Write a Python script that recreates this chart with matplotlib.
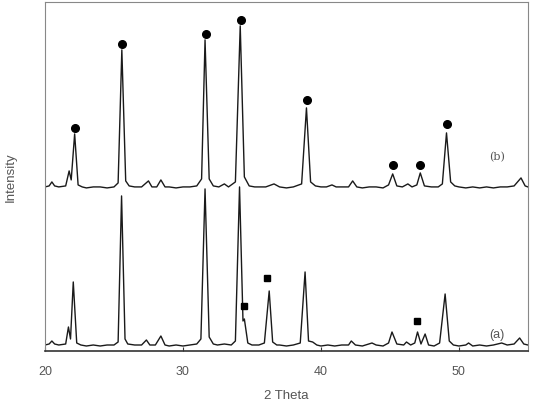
import numpy as np
import matplotlib.pyplot as plt

plt.rcParams['font.family'] = ['Liberation Sans', 'DejaVu Sans']

two_theta_a = [20.0, 20.3, 20.5, 20.7, 21.0, 21.5, 21.7, 21.85, 22.05, 22.3, 22.6,
               23.0, 23.5, 24.0, 24.5, 25.0, 25.3, 25.55, 25.8, 26.0, 26.5, 27.0,
               27.35, 27.6, 28.0, 28.4, 28.7, 29.0, 29.5, 30.0, 30.5, 31.0, 31.3,
               31.6, 31.9, 32.2, 32.5, 33.0, 33.5, 33.8, 34.1, 34.35, 34.45, 34.7,
               35.0, 35.5, 35.9, 36.25, 36.5, 36.8, 37.0, 37.5, 38.0, 38.5, 38.85,
               39.1, 39.4, 39.7, 40.0, 40.5, 41.0, 41.5, 42.0, 42.2, 42.5, 43.0,
               43.7, 44.0, 44.5, 44.9, 45.15, 45.5, 46.0, 46.2, 46.5, 46.8, 47.0,
               47.25, 47.55, 47.8, 48.2, 48.6, 49.0, 49.3, 49.6, 50.0, 50.5, 50.7,
               51.0, 51.5, 52.0, 52.5, 53.1, 53.5, 54.0, 54.4, 54.7, 55.0]
intensity_a = [6, 7, 10, 7, 6, 7, 24, 12, 69, 8, 6,
               5, 6, 5, 6, 6, 9, 155, 12, 7, 6, 6,
               11, 6, 6, 15, 6, 5, 6, 5, 6, 7, 12,
               162, 14, 7, 6, 7, 6, 10, 164, 30, 32, 8,
               6, 6, 8, 60, 9, 6, 6, 5, 6, 8, 79,
               10, 9, 6, 5, 6, 5, 6, 6, 10, 6, 5,
               8, 6, 5, 8, 19, 7, 6, 9, 6, 8, 19,
               7, 17, 6, 5, 8, 57, 10, 6, 5, 6, 8,
               5, 6, 5, 6, 8, 6, 7, 13, 7, 6]

two_theta_b = [20.0, 20.3, 20.5, 20.7, 21.0, 21.5, 21.75, 21.9, 22.15, 22.4, 22.7,
               23.0, 23.5, 24.0, 24.5, 25.0, 25.3, 25.57, 25.85, 26.1, 26.5, 27.0,
               27.5, 27.75, 28.1, 28.4, 28.7, 29.0, 29.5, 30.0, 30.5, 31.0, 31.35,
               31.6, 31.9, 32.2, 32.6, 33.0, 33.3, 33.8, 34.15, 34.45, 34.8, 35.2,
               35.6, 36.0, 36.6, 37.0, 37.5, 38.0, 38.6, 38.95, 39.25, 39.6, 40.0,
               40.4, 40.8, 41.1, 41.5, 42.0, 42.3, 42.6, 43.0, 43.5, 44.0, 44.5,
               44.9, 45.2, 45.5, 45.9, 46.3, 46.6, 46.95, 47.2, 47.5, 48.0, 48.5,
               48.8, 49.1, 49.4, 49.7, 50.0, 50.5, 51.0, 51.5, 52.0, 52.5, 53.0,
               53.5, 54.0, 54.5, 54.8, 55.0]
intensity_b = [6, 7, 11, 7, 6, 7, 22, 13, 59, 8, 6,
               5, 6, 6, 5, 6, 10, 143, 12, 7, 6, 6,
               12, 6, 6, 13, 6, 6, 5, 6, 6, 7, 14,
               153, 14, 7, 6, 9, 6, 11, 167, 16, 7, 6,
               6, 6, 9, 6, 5, 6, 9, 85, 11, 7, 6,
               6, 8, 6, 6, 6, 12, 6, 5, 6, 6, 5,
               8, 19, 7, 6, 9, 6, 8, 20, 7, 6, 6,
               9, 60, 11, 7, 6, 5, 6, 5, 6, 5, 6,
               6, 7, 15, 7, 6]

# phase markers
circle_x = [22.15, 25.6, 31.65, 34.2, 39.0, 45.2, 47.2, 49.1]
circle_y = [65, 149, 159, 173, 93, 28, 28, 69]
square_x = [34.4, 36.1, 46.95]
square_y = [45, 73, 30]

offset_b = 158

fig = plt.figure(figsize=(5.42, 4.06), dpi=100)
ax = fig.add_axes([0.083, 0.133, 0.891, 0.860])

ax.plot(two_theta_a, intensity_a, color='#1a1a1a', lw=1.0)
ax.plot(two_theta_b, np.array(intensity_b) + offset_b, color='#1a1a1a', lw=1.0)
ax.plot(circle_x, np.array(circle_y) + offset_b, 'o', color='black', ms=5.5)
ax.plot(square_x, square_y, 's', color='black', ms=5)

ax.text(52.75, 195, '(b)', fontsize=8, color='#555555', ha='center', va='center',
        family=['DejaVu Serif'])
ax.text(52.75, 17, '(a)', fontsize=9, color='#555555', ha='center', va='center')

ax.set_xlim(20, 55)
ax.set_ylim(0, 349)
ax.set_xticks([20, 30, 40, 50])
ax.set_yticks([])
ax.tick_params(axis='x', direction='in', length=3, colors='#333333',
               labelcolor='#555555', labelsize=9, pad=10)
ax.set_xlabel('2 Theta', fontsize=9.5, color='#555555', labelpad=9)
ax.set_ylabel('Intensity', fontsize=9.5, color='#555555', labelpad=20)
for side in ['top', 'right', 'left']:
    ax.spines[side].set_color('#888888')
ax.spines['bottom'].set_color('#333333')
ax.spines['bottom'].set_linewidth(1.2)

fig.savefig('out.png', dpi=100)
